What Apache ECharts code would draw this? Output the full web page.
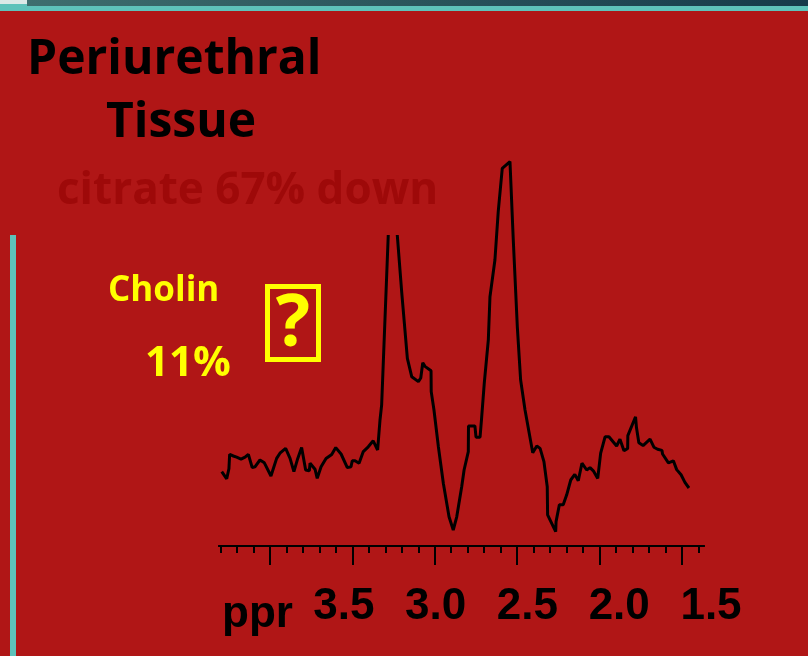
<!DOCTYPE html>
<html>
<head>
<meta charset="utf-8">
<title>Periurethral Tissue</title>
<script src="https://cdn.jsdelivr.net/npm/echarts@6/dist/echarts.min.js"></script>
<style>
  html, body { margin: 0; padding: 0; background: #B01616; }
  #chart { width: 808px; height: 656px; }
</style>
</head>
<body>
<div id="chart"></div>
<script>
// chemical shift (ppm) of each traced point, left to right
const ppm = [
  4.165, 4.138, 4.126, 4.122, 4.102, 4.084, 4.075, 4.060, 4.038, 4.020,
  3.999, 3.984, 3.957, 3.933, 3.897, 3.866, 3.848, 3.817, 3.793, 3.772,
  3.751, 3.730, 3.708, 3.688, 3.684, 3.657, 3.645, 3.624, 3.597, 3.566,
  3.544, 3.515, 3.481, 3.461, 3.454, 3.439, 3.417, 3.394, 3.367, 3.340,
  3.316, 3.303, 3.294, 3.258, 3.240, 3.209, 3.185, 3.154, 3.130, 3.094,
  3.081, 3.070, 3.058, 3.025, 3.024, 3.009, 2.985, 2.958, 2.927, 2.904,
  2.885, 2.858, 2.845, 2.822, 2.821, 2.786, 2.780, 2.758, 2.749, 2.735,
  2.713, 2.704, 2.677, 2.659, 2.637, 2.595, 2.577, 2.555, 2.537, 2.513,
  2.471, 2.449, 2.431, 2.410, 2.392, 2.390, 2.346, 2.344, 2.326, 2.305,
  2.286, 2.264, 2.242, 2.223, 2.203, 2.177, 2.159, 2.141, 2.117, 2.101,
  2.077, 2.056, 2.014, 1.996, 1.974, 1.954, 1.953, 1.911, 1.906, 1.893,
  1.870, 1.832, 1.811, 1.791, 1.767, 1.764, 1.732, 1.705, 1.687, 1.663,
  1.642, 1.620
];
// signal intensity (arbitrary units)
const intensity = [
  18.6, 16.8, 19.3, 22.9, 22.5, 22.2, 22.3, 21.7, 22.2, 22.9,
  19.6, 19.8, 21.5, 20.8, 17.5, 21.9, 23.2, 24.4, 21.9, 18.6,
  21.9, 24.6, 19.0, 18.8, 20.7, 19.2, 16.9, 19.8, 21.9, 22.9,
  24.6, 23.0, 19.6, 19.8, 21.3, 21.3, 20.7, 23.6, 24.8, 26.3,
  24.0, 31.5, 35.3, 77.8, 96.5, 77.8, 63.6, 46.9, 42.3, 41.1,
  42.0, 45.8, 44.9, 43.8, 38.6, 34.0, 24.8, 15.7, 7.3, 4.0,
  7.3, 14.8, 19.0, 23.6, 30.0, 30.0, 27.2, 27.2, 32.3, 40.7,
  51.5, 62.3, 71.5, 83.6, 94.4, 96.1, 76.5, 54.8, 41.5, 34.0,
  23.3, 25.0, 24.4, 21.1, 14.8, 7.8, 3.6, 6.1, 10.3, 10.3,
  12.8, 16.5, 17.9, 16.3, 20.7, 19.0, 19.6, 18.8, 16.9, 23.2,
  27.3, 27.3, 25.0, 26.7, 23.8, 24.4, 27.6, 32.3, 29.6, 25.8,
  25.1, 26.7, 24.7, 24.2, 23.9, 23.0, 20.8, 21.3, 19.1, 17.8,
  15.9, 14.5
];

// axis labels and tick marks of the spectrum scale
const labelValues = [3.5, 3.0, 2.5, 2.0, 1.5];
const majorTicks = [4.0, 3.5, 3.0, 2.5, 2.0, 1.5];
const minorTicks = [];
for (let v = 43; v >= 14; v--) {
  if (v % 5 !== 0) minorTicks.push(v / 10);
}

const RED = '#B01616';
const TEAL = '#5EC2BA';
const YELLOW = '#FFFF00';

const chart = echarts.init(document.getElementById('chart'));

const tickAxis = (ticks, len) => ({
  type: 'value',
  gridIndex: 1,
  position: 'bottom',
  inverse: true,
  min: 1.3665,
  max: 4.309,
  axisLine: { show: true, lineStyle: { color: '#000', width: 2 } },
  axisTick: { show: true, customValues: ticks, length: len, lineStyle: { color: '#000', width: 2 } },
  axisLabel: { show: false },
  splitLine: { show: false }
});

chart.setOption({
  backgroundColor: RED,
  animation: false,
  grid: [
    { left: 219, right: 97, top: 146, bottom: 110 },  // spectrum + labels
    { left: 219, right: 104, top: 146, bottom: 110 }  // tick ruler
  ],
  xAxis: [
    {
      type: 'value',
      gridIndex: 0,
      inverse: true,
      min: 1.5,
      max: 4.18,
      axisLine: { show: false },
      axisTick: { show: false },
      splitLine: { show: false },
      axisLabel: {
        customValues: labelValues,
        margin: 39,
        color: '#000',
        fontFamily: '"Liberation Sans", Arial, sans-serif',
        fontWeight: 'bold',
        fontSize: 44,
        showMinLabel: true,
        formatter: v => v.toFixed(1)
      }
    },
    tickAxis(minorTicks, 7),
    tickAxis(majorTicks, 19)
  ],
  yAxis: [
    { type: 'value', gridIndex: 0, min: 0, max: 100, show: false },
    { type: 'value', gridIndex: 1, min: 0, max: 100, show: false }
  ],
  series: [{
    type: 'line',
    xAxisIndex: 0,
    yAxisIndex: 0,
    data: ppm.map((p, i) => [p, intensity[i]]),
    symbol: 'none',
    lineStyle: { color: '#000', width: 3 },
    z: 5
  }],
  graphic: [
    // slide frame bits
    { type: 'rect', z: 1, shape: { x: 27, y: 0, width: 781, height: 6 },
      style: { fill: new echarts.graphic.LinearGradient(0, 0, 1, 0, [
        { offset: 0, color: '#3E6E6E' }, { offset: 1, color: '#163A4A' }]) } },
    { type: 'rect', z: 1, shape: { x: 0, y: 0, width: 27, height: 4 }, style: { fill: '#DCE9E7' } },
    { type: 'rect', z: 1, shape: { x: 0, y: 4, width: 27, height: 7 }, style: { fill: TEAL } },
    { type: 'rect', z: 1, shape: { x: 0, y: 6, width: 808, height: 5 }, style: { fill: TEAL } },
    { type: 'rect', z: 1, shape: { x: 10, y: 235, width: 6, height: 421 }, style: { fill: TEAL } },
    // title box covering the top of the choline peak
    { type: 'rect', z: 100, shape: { x: 0, y: 11, width: 460, height: 224 }, style: { fill: RED } },
    { type: 'text', z: 101, style: { text: 'Periurethral', x: 27, y: 36, verticalAlign: 'top',
      font: 'bold 48px "Open Sans", sans-serif', fill: '#000' } },
    { type: 'text', z: 101, style: { text: 'Tissue', x: 106, y: 99, verticalAlign: 'top',
      font: 'bold 48px "Open Sans", sans-serif', fill: '#000' } },
    { type: 'text', z: 101, style: { text: 'citrate 67% down', x: 57, y: 169, verticalAlign: 'top',
      font: 'bold 44px "Open Sans", sans-serif', fill: '#9E0909' } },
    // yellow annotations
    { type: 'text', z: 101, style: { text: 'Cholin', x: 108, y: 274, verticalAlign: 'top',
      font: 'bold 35px "Open Sans", sans-serif', fill: YELLOW } },
    { type: 'text', z: 101, style: { text: '11%', x: 145, y: 343, verticalAlign: 'top',
      font: 'bold 42px "Open Sans", sans-serif', fill: YELLOW } },
    { type: 'rect', z: 101, shape: { x: 267.5, y: 286.5, width: 51, height: 73 },
      style: { fill: 'none', stroke: YELLOW, lineWidth: 5 } },
    { type: 'text', z: 101, style: { text: '?', x: 293, y: 289, align: 'center', verticalAlign: 'top',
      font: 'bold 72px "Open Sans", sans-serif', fill: YELLOW } },
    // axis unit, cut off in the original slide
    { type: 'text', z: 101, style: { text: 'ppr', x: 222, y: 593, verticalAlign: 'top',
      font: 'bold 44px "Liberation Sans", Arial, sans-serif', fill: '#000' } }
  ]
});
</script>
</body>
</html>
